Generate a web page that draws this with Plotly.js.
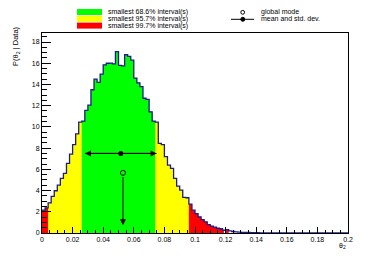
<!DOCTYPE html>
<html><head><meta charset="utf-8">
<script src="https://cdn.plot.ly/plotly-3.0.1.min.js"></script>
<style>html,body{margin:0;padding:0;background:#fff}#c{width:390px;height:261px}</style>
</head><body><div id="c"></div>
<script>
// ---- data ----
const binWidth = 0.002;
const binStart = 0;
const values = [
 2.15,2.37,2.84,3.45,3.98,4.52,5.15,5.62,6.56,7.44,
 8.32,9.34,10.45,10.55,11.55,12.05,13.5,14.5,14.2,14.97,
 15.85,16.0,16.02,15.94,17.1,15.8,15.75,16.8,16.64,16.3,
 14.6,14.15,13.8,12.7,12.6,11.42,10.55,10.45,8.45,8.32,
 7.2,6.4,6.1,5.14,4.42,4.05,3.35,3.32,2.72,2.15,
 1.83,1.52,1.27,1.05,0.78,0.65,0.55,0.45,0.4,0.26,
 0.32,0.2,0.14,0.1,0.08,0.06,0.05,0.05,0.04,0.04,
 0.03,0.02,0.02,0.02,0.02,0.02,0.01,0.01,0.01,0.01,
 0.01,0.01,0.01,0.01,0.01,0.01,0.01,0.01,0.01,0.01,
 0.01,0.01,0.01,0.01,0.01,0.01,0.01,0.01,0.01,0.01
];
const intervals68 = [[0.026, 0.074]];
const intervals95 = [[0.004, 0.096]];
const intervals99 = [[0.0, 0.1189], [0.1198, 0.1220]];
const meanValue = 0.0515, stdDev = 0.0234, meanLevel = 7.5;
const modeValue = 0.0529, modeLevel = 5.67, modeArrowTip = 0.73;
const legendLabels = ["smallest 68.6% interval(s)", "smallest 95.7% interval(s)", "smallest 99.7% interval(s)"];
const legendLabels2 = ["global mode", "mean and std. dev."];
const colors = {c68:'#00ff00', c95:'#ffff00', c99:'#ff0000', line:'#1c1c8e'};

// ---- build ----
const nb = values.length;
const edges = values.map((v,i)=>binStart + i*binWidth).concat([binStart + nb*binWidth]);
function valAt(x){ let i = Math.floor((x - binStart)/binWidth + 1e-9); i=Math.max(0,Math.min(nb-1,i)); return values[i]; }
function fillTrace(r, color){
  const xs=[], ys=[];
  const a=r[0], b=r[1];
  xs.push(a); ys.push(valAt(a));
  edges.forEach(e=>{ if(e>a+1e-9 && e<b-1e-9){ xs.push(e); ys.push(valAt(e)); } });
  xs.push(b); ys.push(valAt(b-1e-9));
  return {x:xs, y:ys, type:'scatter', mode:'lines', line:{shape:'hv', width:0, color:color},
          fill:'tozeroy', fillcolor:color, hoverinfo:'skip'};
}
const traces = [];
[[intervals99,colors.c99],[intervals95,colors.c95],[intervals68,colors.c68]].forEach(([iv,c])=>{
  iv.forEach(r=>traces.push(fillTrace(r, c)));
});
traces.push({x:edges, y:values.concat([values[nb-1]]), type:'scatter', mode:'lines',
  line:{shape:'hv', color:colors.line, width:1.3}, hoverinfo:'skip'});
traces.push({x:[meanValue-stdDev, meanValue+stdDev], y:[meanLevel, meanLevel], type:'scatter', mode:'lines',
  line:{color:'#000', width:1}, hoverinfo:'skip'});
traces.push({x:[meanValue], y:[meanLevel], type:'scatter', mode:'markers',
  marker:{color:'#000', size:5, symbol:'circle'}, hoverinfo:'skip'});
traces.push({x:[modeValue], y:[modeLevel], type:'scatter', mode:'markers',
  marker:{color:'#000', size:5, symbol:'circle-open', line:{color:'#000', width:1}}, hoverinfo:'skip'});

const L=42, T=33, W=306, H=200;
const px = x => (x-L)/W, py = y => (T+H-y)/H;
const font = {family:'Liberation Sans, Arial, sans-serif', size:7, color:'#000'};
const annotations = [
  {x:meanValue-stdDev, y:meanLevel, ax:meanValue, ay:meanLevel, xref:'x', yref:'y', axref:'x', ayref:'y',
   text:'', showarrow:true, arrowhead:2, arrowsize:1.2, arrowwidth:1, arrowcolor:'#000', standoff:0},
  {x:meanValue+stdDev, y:meanLevel, ax:meanValue, ay:meanLevel, xref:'x', yref:'y', axref:'x', ayref:'y',
   text:'', showarrow:true, arrowhead:2, arrowsize:1.2, arrowwidth:1, arrowcolor:'#000', standoff:0},
  {x:modeValue, y:modeArrowTip, ax:modeValue, ay:modeLevel-0.25, xref:'x', yref:'y', axref:'x', ayref:'y',
   text:'', showarrow:true, arrowhead:2, arrowsize:1.2, arrowwidth:1, arrowcolor:'#000', standoff:0},
  {x:px(16), y:py(46), xref:'paper', yref:'paper', text:'P(θ<sub>2</sub> | Data)', textangle:-90,
   showarrow:false, font:Object.assign({}, font, {size:7.5}), xanchor:'center', yanchor:'middle'},
  {x:px(342), y:py(246), xref:'paper', yref:'paper', text:'θ<sub>2</sub>', showarrow:false, font:font,
   xanchor:'center', yanchor:'middle'}
];
legendLabels.forEach((t,i)=>annotations.push({x:px(106), y:py(12+i*6.8), xref:'paper', yref:'paper', text:t,
  showarrow:false, font:font, xanchor:'left', yanchor:'middle'}));
legendLabels2.forEach((t,i)=>annotations.push({x:px(259), y:py(12+i*7), xref:'paper', yref:'paper', text:t,
  showarrow:false, font:font, xanchor:'left', yanchor:'middle'}));
const sw = [colors.c68, colors.c95, colors.c99];
const shapes = sw.map((c,i)=>({type:'rect', xref:'paper', yref:'paper', x0:px(77), x1:px(102),
  y0:py(9+i*6.8), y1:py(15+i*6.8), fillcolor:c, line:{width:0}}));
shapes.push({type:'circle', xref:'paper', yref:'paper', x0:px(240.8), x1:px(244.6), y0:py(10.4), y1:py(14.2),
  line:{color:'#000', width:1}, fillcolor:'rgba(0,0,0,0)'});
shapes.push({type:'line', xref:'paper', yref:'paper', x0:px(231), x1:px(254), y0:py(19.3), y1:py(19.3),
  line:{color:'#000', width:1}});
shapes.push({type:'circle', xref:'paper', yref:'paper', x0:px(240.8), x1:px(244.8), y0:py(17.3), y1:py(21.3),
  line:{color:'#000', width:1}, fillcolor:'#000'});

const axisCommon = {showgrid:false, zeroline:false, showline:true, linecolor:'#000', linewidth:1, mirror:true,
  ticks:'inside', tickcolor:'#000', tickwidth:1, tickfont:font, fixedrange:true};
const layout = {
  width:390, height:261, margin:{l:L, r:390-L-W, t:T, b:261-T-H, pad:0},
  paper_bgcolor:'#fff', plot_bgcolor:'#fff', showlegend:false,
  xaxis: Object.assign({}, axisCommon, {range:[0,0.2], tick0:0, dtick:0.02, ticklen:6,
    minor:{dtick:0.005, ticks:'inside', ticklen:3, tickcolor:'#000', showgrid:false}}),
  yaxis: Object.assign({}, axisCommon, {range:[0,18.85], tick0:0, dtick:2, ticklen:9,
    minor:{dtick:0.5, ticks:'inside', ticklen:4.5, tickcolor:'#000', showgrid:false}}),
  annotations: annotations, shapes: shapes
};
Plotly.newPlot('c', traces, layout, {staticPlot:true, displayModeBar:false});
</script></body></html>
